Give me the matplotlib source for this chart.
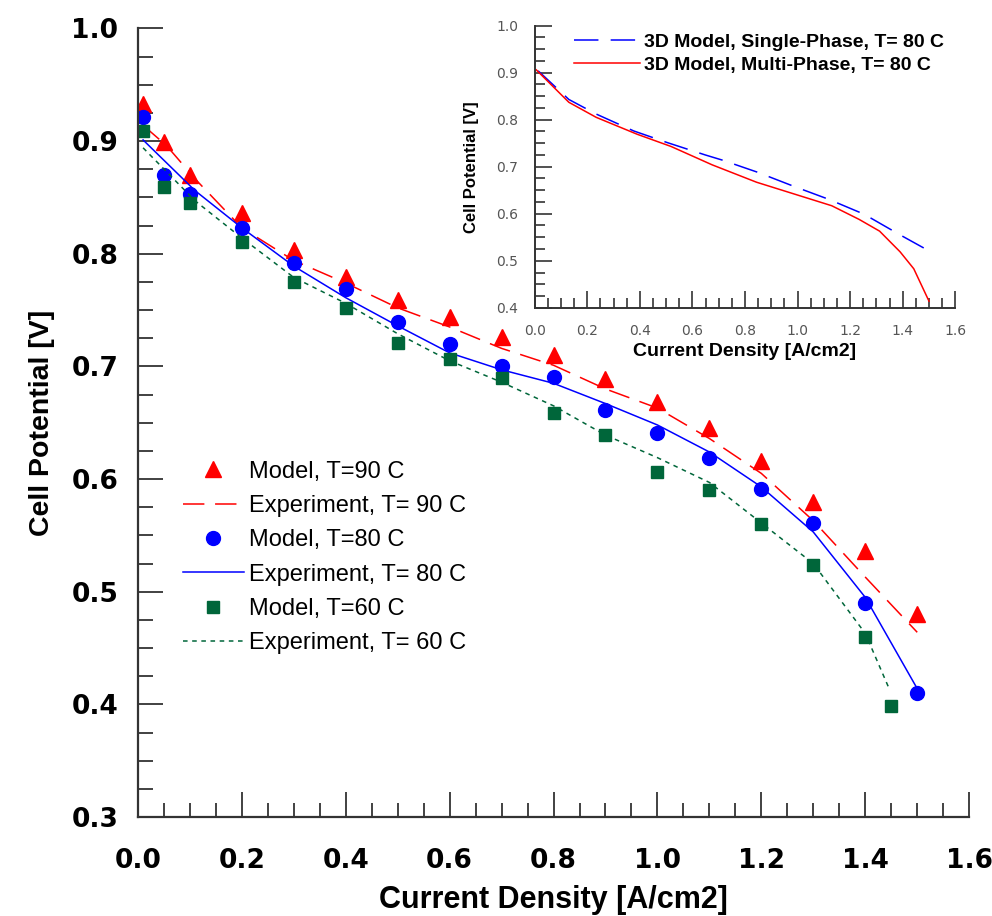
import matplotlib.pyplot as plt
from matplotlib.ticker import MultipleLocator

# model points (markers)
mod90_x = [0.01, 0.05, 0.1, 0.2, 0.3, 0.4, 0.5, 0.6, 0.7, 0.8, 0.9, 1.0, 1.1, 1.2, 1.3, 1.4, 1.5]
mod90_y = [0.933, 0.899, 0.870, 0.836, 0.803, 0.779, 0.759, 0.744, 0.726, 0.710, 0.689, 0.668, 0.645, 0.616, 0.580, 0.536, 0.480]
mod80_x = [0.01, 0.05, 0.1, 0.2, 0.3, 0.4, 0.5, 0.6, 0.7, 0.8, 0.9, 1.0, 1.1, 1.2, 1.3, 1.4, 1.5]
mod80_y = [0.921, 0.870, 0.853, 0.823, 0.792, 0.769, 0.739, 0.720, 0.700, 0.691, 0.661, 0.641, 0.619, 0.591, 0.561, 0.490, 0.410]
mod60_x = [0.01, 0.05, 0.1, 0.2, 0.3, 0.4, 0.5, 0.6, 0.7, 0.8, 0.9, 1.0, 1.1, 1.2, 1.3, 1.4, 1.45]
mod60_y = [0.909, 0.859, 0.845, 0.810, 0.775, 0.752, 0.721, 0.707, 0.690, 0.659, 0.639, 0.606, 0.590, 0.560, 0.524, 0.460, 0.399]

# experiment curves
exp90_x = [0.01, 0.055, 0.113, 0.2, 0.3, 0.4, 0.5, 0.6, 0.7, 0.8, 0.9, 1.0, 1.1, 1.2, 1.3, 1.4, 1.5]
exp90_y = [0.914, 0.896, 0.865, 0.823, 0.794, 0.774, 0.752, 0.735, 0.716, 0.701, 0.680, 0.663, 0.636, 0.605, 0.563, 0.513, 0.464]
exp80_x = [0.01, 0.11, 0.2, 0.3, 0.4, 0.5, 0.6, 0.7, 0.8, 0.9, 1.0, 1.1, 1.2, 1.3, 1.4, 1.5]
exp80_y = [0.901, 0.856, 0.823, 0.789, 0.761, 0.736, 0.712, 0.697, 0.685, 0.667, 0.648, 0.624, 0.593, 0.553, 0.495, 0.414]
exp60_x = [0.01, 0.11, 0.2, 0.3, 0.4, 0.5, 0.6, 0.7, 0.8, 0.9, 1.0, 1.1, 1.2, 1.3, 1.4, 1.445]
exp60_y = [0.894, 0.847, 0.814, 0.779, 0.756, 0.729, 0.705, 0.686, 0.665, 0.639, 0.619, 0.597, 0.561, 0.525, 0.463, 0.415]

# inset: 3D model
single_x = [0.013, 0.13, 0.234, 0.377, 0.506, 0.649, 0.714, 0.844, 0.987, 1.117, 1.253, 1.39, 1.5]
single_y = [0.904, 0.843, 0.812, 0.776, 0.751, 0.725, 0.714, 0.689, 0.658, 0.631, 0.599, 0.555, 0.521]
multi_x = [0.006, 0.13, 0.234, 0.39, 0.519, 0.675, 0.844, 0.987, 1.13, 1.234, 1.312, 1.39, 1.442, 1.5]
multi_y = [0.906, 0.837, 0.805, 0.769, 0.743, 0.704, 0.667, 0.642, 0.617, 0.588, 0.563, 0.519, 0.483, 0.414]

red = '#ff0000'
blue = '#0000ff'
green = '#00663a'

fig = plt.figure(figsize=(9.92, 9.16), dpi=100)
ax = fig.add_axes([0.139, 0.108, 0.838, 0.861])

ax.plot(mod90_x, mod90_y, '^', color=red, ms=11, ls='none', label='Model, T=90 C')
ax.plot(exp90_x, exp90_y, color=red, lw=1.1, dashes=(14, 7), label='Experiment, T= 90 C')
ax.plot(mod80_x, mod80_y, 'o', color=blue, ms=10, ls='none', label='Model, T=80 C')
ax.plot(exp80_x, exp80_y, color=blue, lw=1.1, label='Experiment, T= 80 C')
ax.plot(mod60_x, mod60_y, 's', color=green, ms=9, ls='none', label='Model, T=60 C')
ax.plot(exp60_x, exp60_y, color=green, lw=1.1, dashes=(3, 3), label='Experiment, T= 60 C')

ax.set_xlim(0, 1.6)
ax.set_ylim(0.3, 1.0)
ax.spines['top'].set_visible(False)
ax.spines['right'].set_visible(False)
for s in ('left', 'bottom'):
    ax.spines[s].set_linewidth(1.6)
    ax.spines[s].set_color('#333333')
ax.xaxis.set_major_locator(MultipleLocator(0.2))
ax.xaxis.set_minor_locator(MultipleLocator(0.05))
ax.yaxis.set_major_locator(MultipleLocator(0.1))
ax.yaxis.set_minor_locator(MultipleLocator(0.025))
ax.tick_params(which='major', direction='in', length=18, width=1.3, color='#333333', pad=14)
ax.tick_params(which='minor', direction='in', length=11, width=1.3, color='#333333')
ax.tick_params(axis='x', which='minor', length=10)
ax.tick_params(axis='x', which='major', pad=22)
ax.xaxis.set_major_formatter(plt.FuncFormatter(lambda v, p: f'{v:.1f}'))
ax.yaxis.set_major_formatter(plt.FuncFormatter(lambda v, p: f'{v:.1f}'))
for lab in ax.get_xticklabels() + ax.get_yticklabels():
    lab.set_fontsize(19)
    lab.set_fontweight('bold')
    lab.set_family('DejaVu Sans')
ax.set_xlabel('Current Density [A/cm2]', fontsize=22, fontweight='bold',
              family='Liberation Sans', labelpad=8)
ax.set_ylabel('Cell Potential [V]', fontsize=20.5, fontweight='bold',
              family='Liberation Sans', labelpad=12)

ax.legend(loc='upper left', bbox_to_anchor=(0.184, 0.497), bbox_transform=fig.transFigure,
          frameon=False, borderpad=0, borderaxespad=0, handlelength=2.6, handletextpad=0.2,
          labelspacing=0.52, prop={'family': 'Liberation Sans', 'size': 17})

# inset
ins = fig.add_axes([0.539, 0.664, 0.424, 0.308])
ins.patch.set_alpha(0)
ins.plot(single_x, single_y, color=blue, lw=1.1, dashes=(16, 8), label='3D Model, Single-Phase, T= 80 C')
ins.plot(multi_x, multi_y, color=red, lw=1.1, label='3D Model, Multi-Phase, T= 80 C')
ins.set_xlim(0, 1.6)
ins.set_ylim(0.4, 1.0)
ins.spines['top'].set_visible(False)
ins.spines['right'].set_visible(False)
for s in ('left', 'bottom'):
    ins.spines[s].set_linewidth(1.4)
    ins.spines[s].set_color('#333333')
ins.xaxis.set_major_locator(MultipleLocator(0.2))
ins.xaxis.set_minor_locator(MultipleLocator(0.05))
ins.yaxis.set_major_locator(MultipleLocator(0.1))
ins.yaxis.set_minor_locator(MultipleLocator(0.025))
ins.tick_params(which='major', direction='in', length=12, width=1.2, color='#333333',
                labelsize=10, labelcolor='#555555', pad=12)
ins.tick_params(which='minor', direction='in', length=7, width=1.2, color='#333333')
ins.xaxis.set_major_formatter(plt.FuncFormatter(lambda v, p: f'{v:.1f}'))
ins.yaxis.set_major_formatter(plt.FuncFormatter(lambda v, p: f'{v:.1f}'))
ins.set_xlabel('Current Density [A/cm2]', fontsize=14, fontweight='bold',
               family='Liberation Sans', labelpad=3)
ins.set_ylabel('Cell Potential [V]', fontsize=12, fontweight='bold',
               family='Liberation Sans', labelpad=12)
ins.legend(loc='upper left', bbox_to_anchor=(0.579, 0.964), bbox_transform=fig.transFigure,
           frameon=False, borderpad=0, borderaxespad=0, handlelength=3.4, handletextpad=0.2,
           labelspacing=0.3, prop={'family': 'Liberation Sans', 'size': 14, 'weight': 'bold'})

fig.savefig('out.png', dpi=100)
